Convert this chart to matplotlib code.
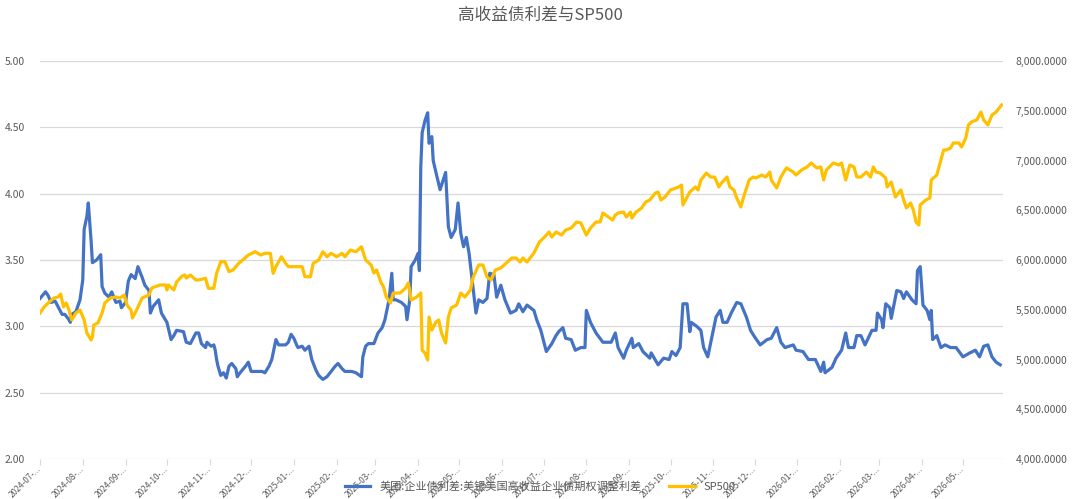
import matplotlib
matplotlib.use('Agg')
import matplotlib.pyplot as plt
import numpy as np
import pandas as pd

plt.rcParams['font.family'] = ['Noto Sans CJK SC', 'DejaVu Sans']

# days since 2024-07-01
spread_day = [0, 4, 6, 8, 11, 13, 16, 18, 21, 22, 23, 26, 29, 31, 32, 34, 35, 37, 38, 41, 44, 45, 47, 50, 52,
              55, 58, 59, 62, 64, 66, 69, 71, 74, 76, 79, 80, 82, 86, 88, 92, 95, 97, 99, 104, 106, 109, 113,
              115, 117, 120, 121, 124, 126, 127, 128, 129, 131, 133, 135, 137, 139, 142, 143, 145, 149, 151, 153,
              156, 161, 163, 166, 168, 171, 173, 178, 180, 182, 184, 186, 187, 190, 192, 195, 197, 200, 202, 205,
              208, 211, 214, 216, 219, 221, 226, 229, 233, 234, 236, 238,
              242, 245, 248, 250, 253, 255, 256, 258, 262, 265, 266, 268, 269, 272, 274, 275, 276, 277, 279, 281,
              282, 284, 285, 287, 290, 294, 296, 298, 301, 303, 305, 307, 309, 311, 313, 316, 318, 321, 324, 326,
              329, 331, 334, 337, 341, 345,
              347, 350, 353, 358, 360, 363, 367, 371, 374, 376, 379, 381, 385, 388, 392, 395, 396, 399, 403, 408,
              414, 417, 419, 423, 425, 429, 430, 434, 437, 442, 443, 448, 452, 456, 458, 461, 464, 466, 469,
              471, 472, 476, 479, 481, 484, 487, 490, 493, 495, 498, 501, 505, 508, 512, 515, 518, 522, 527, 530,
              534, 537, 540, 546, 548, 553, 557, 562, 566, 568, 569, 574, 577, 581,
              584, 586, 590, 592, 595, 598, 603, 606, 607, 610, 611, 613, 616, 617, 621, 624, 626, 628, 632, 635,
              636, 638, 640, 643, 645, 646, 647, 650, 653, 656, 660, 664, 669, 674, 678, 681, 684, 687, 690, 693, 696]
spread_val = [3.21, 3.26, 3.23, 3.18, 3.19, 3.15, 3.09, 3.09, 3.05, 3.03, 3.09, 3.11, 3.20, 3.35, 3.73, 3.83, 3.93,
              3.65, 3.48, 3.50, 3.54, 3.30, 3.25, 3.22, 3.26, 3.18, 3.19, 3.14, 3.18, 3.34, 3.39, 3.36, 3.45, 3.37,
              3.31, 3.27, 3.10, 3.15, 3.20, 3.10, 3.03, 2.90, 2.93, 2.97, 2.96, 2.88, 2.87, 2.95,
              2.95, 2.87, 2.84, 2.88, 2.85, 2.86, 2.82, 2.75, 2.70, 2.63, 2.65, 2.61, 2.70, 2.72, 2.68, 2.62, 2.65,
              2.70, 2.73, 2.66, 2.66, 2.66, 2.65, 2.70, 2.75, 2.90, 2.86, 2.86, 2.88, 2.94, 2.91, 2.86, 2.84, 2.85,
              2.82, 2.85, 2.75, 2.67, 2.63, 2.60, 2.62, 2.66, 2.70, 2.72, 2.68, 2.66, 2.66, 2.65, 2.62, 2.77, 2.85,
              2.87,
              2.87, 2.95, 2.99, 3.05, 3.20, 3.40, 3.20, 3.20, 3.18, 3.15, 3.05, 3.20, 3.45, 3.50, 3.55, 3.42, 4.20,
              4.46, 4.55, 4.61, 4.38, 4.43, 4.25, 4.16, 4.03, 4.16, 3.75, 3.67, 3.73, 3.93, 3.70, 3.60, 3.67, 3.55,
              3.37, 3.10, 3.20, 3.18, 3.21, 3.40, 3.39, 3.22, 3.31, 3.20, 3.10, 3.12,
              3.17, 3.11, 3.16, 3.12, 3.05, 2.97, 2.81, 2.87, 2.93, 2.96, 2.99, 2.91, 2.90, 2.82, 2.84, 2.84, 3.12,
              3.03, 2.95, 2.88, 2.88, 2.95, 2.84, 2.76, 2.82, 2.91, 2.84, 2.87, 2.81, 2.76, 2.80, 2.71, 2.76, 2.75,
              2.81, 2.78, 2.84, 3.17, 3.17,
              2.96, 3.03, 3.00, 2.97, 2.84, 2.77, 2.92, 3.07, 3.12, 3.03, 3.03, 3.10, 3.18, 3.17, 3.07, 2.97, 2.92,
              2.86, 2.90, 2.91, 2.99, 2.88, 2.84, 2.86, 2.82, 2.81, 2.75, 2.75, 2.66, 2.73, 2.65, 2.69, 2.76, 2.82,
              2.95, 2.84, 2.84, 2.93, 2.93, 2.86, 2.97, 2.97, 3.10, 3.05, 2.99, 3.17, 3.14, 3.06, 3.27, 3.26, 3.21,
              3.26, 3.20, 3.17, 3.42, 3.45, 3.16, 3.12, 3.05, 3.12, 2.90, 2.93, 2.84, 2.86, 2.84, 2.84, 2.77, 2.80,
              2.82, 2.77, 2.85, 2.86, 2.77, 2.73, 2.71]

sp_day = [0, 3, 6, 10, 13, 15, 17, 19, 21, 23, 26, 29, 32, 34, 37, 38, 39, 42, 45, 47, 51, 55, 58, 61, 63, 66,
          67, 70, 74, 79, 81, 87, 91, 92, 93, 97, 99, 103, 105, 106, 109, 113,
          115, 120, 122, 126, 128, 131, 134, 137, 140, 144, 147, 151, 156, 160, 163, 167, 169, 171, 175, 178,
          180, 185, 190, 192, 196, 198, 202, 205, 208, 211, 215, 219, 221, 225, 229, 233, 236,
          240, 242, 244, 247, 249, 251, 254, 256, 261, 265, 267, 269, 273, 276, 277, 279, 281, 282, 284, 287,
          289, 291, 294, 296, 298, 302, 305, 308, 312, 314, 318, 321, 324, 327, 330, 334, 338, 342, 345, 348,
          350, 353, 358, 362, 365, 369, 371, 374, 378, 381, 385, 389, 392, 396, 399, 403, 406, 408, 412, 415,
          417, 419, 423, 425, 428, 429, 432, 436, 439, 442, 446, 448, 450, 453, 457, 463, 465, 466, 469,
          471, 475, 477, 479, 483, 486, 489, 492, 494, 498, 500, 503, 505, 508, 510, 514, 517, 519, 523, 526,
          529, 530, 534, 537, 541, 546, 548, 552, 556, 559, 563, 566, 568, 570, 575, 579, 581, 584,
          587, 590, 592, 595, 599, 602, 604, 606, 609, 613, 614, 617, 620, 624, 626, 628, 631, 633, 635, 637,
          638, 642, 645, 646, 650, 653, 655, 657, 660, 662, 666, 668, 671, 673, 675, 679, 682, 684, 687, 690,
          693, 697]
sp_val = [5467, 5528, 5568, 5618, 5628, 5658, 5528, 5568, 5497, 5397, 5467, 5497, 5397, 5266, 5196, 5226, 5347,
          5367, 5467, 5568, 5618, 5628, 5618, 5648, 5548, 5497, 5417, 5497, 5618, 5648, 5719, 5749, 5749, 5699,
          5749, 5699, 5779, 5839, 5849, 5819, 5849, 5799,
          5799, 5816, 5716, 5716, 5866, 5983, 5983, 5883, 5900, 5967, 6000, 6050, 6083, 6050, 6067, 6067, 5866,
          5933, 6033, 5967, 5933, 5933, 5933, 5832, 5832, 5967, 6000, 6083, 6033, 6067, 6033, 6067, 6033, 6100,
          6083, 6133, 6000,
          5950, 5869, 5900, 5779, 5729, 5628, 5568, 5668, 5668, 5719, 5769, 5598, 5628, 5668, 5095, 5065, 4995,
          5427, 5296, 5377, 5397, 5266, 5166, 5427, 5518, 5548, 5668, 5628, 5699, 5829, 5950, 5950, 5829, 5799,
          5899, 5920, 5970, 6020, 6020, 5980,
          6020, 5980, 6070, 6181, 6221, 6281, 6231, 6281, 6251, 6301, 6321, 6382, 6372, 6251, 6321, 6382, 6382,
          6472, 6432, 6402, 6452, 6472, 6482, 6432, 6482, 6422, 6482, 6522, 6583, 6603, 6673, 6683, 6603, 6633,
          6704, 6734, 6754, 6553, 6633,
          6683, 6734, 6704, 6804, 6874, 6834, 6834, 6734, 6774, 6834, 6734, 6704, 6623, 6533, 6633, 6804, 6834,
          6824, 6854, 6834, 6884, 6804, 6724, 6834, 6925, 6884, 6854, 6905, 6935, 6975, 6925, 6935, 6804, 6905,
          6975, 6955, 6975, 6804,
          6955, 6935, 6834, 6834, 6884, 6834, 6935, 6884, 6874, 6824, 6734, 6784, 6633, 6704, 6603, 6523, 6573,
          6503, 6382, 6352, 6553, 6603, 6623, 6804, 6854, 7005, 7106, 7106, 7126, 7176, 7176, 7136, 7226, 7357,
          7387, 7407, 7487, 7407, 7357, 7457, 7487, 7558]

spread_label = '美国:企业债利差:美银美国高收益企业债期权调整利差'
sp_label = 'SP500'
title = '高收益债利差与SP500'

start = pd.Timestamp('2024-07-01')
spread_dates = start + pd.to_timedelta(spread_day, unit='D')
sp_dates = start + pd.to_timedelta(sp_day, unit='D')

grey = '#595959'
fig = plt.figure(figsize=(10.8, 4.99), dpi=100)
ax = fig.add_axes([40 / 1080, 1 - 459 / 499, 963 / 1080, 398 / 499])
ax2 = ax.twinx()

l1, = ax.plot(spread_dates, spread_val, color='#4472C4', lw=2.3, solid_joinstyle='round')
l2, = ax2.plot(sp_dates, sp_val, color='#FFC000', lw=2.3, solid_joinstyle='round')

ax.set_ylim(2, 5)
ax2.set_ylim(4000, 8000)
ax.set_yticks(np.arange(2, 5.01, 0.5))
ax2.set_yticks(np.arange(4000, 8001, 500))
ax.yaxis.set_major_formatter(lambda v, p: f'{v:.2f}')
ax2.yaxis.set_major_formatter(lambda v, p: f'{v:,.4f}')
ax.grid(axis='y', color='#D9D9D9', lw=0.9)
ax.set_axisbelow(True)
for a in (ax, ax2):
    for s in a.spines.values():
        s.set_visible(False)

ticks = pd.date_range('2024-07-01', '2026-05-01', freq='MS')
ax.set_xticks(ticks)
ax.set_xticklabels([t.strftime('%Y-%m') + '-...' for t in ticks], rotation=45, ha='right',
                   va='center', rotation_mode='anchor')
ax.set_xlim(start, start + pd.Timedelta(days=698))
ax.tick_params(axis='x', length=4, color='#D9D9D9', labelsize=6, labelcolor=grey, pad=2)
ax.tick_params(axis='y', length=0, labelsize=7.5, labelcolor=grey, pad=11)
ax2.tick_params(axis='y', length=0, labelsize=7.5, labelcolor=grey, pad=9)

fig.text(0.5, 1 - 15 / 499, title, ha='center', va='center', fontsize=12, color=grey)
fig.legend([l1, l2], [spread_label, sp_label], loc='center', bbox_to_anchor=(0.5, 1 - 487 / 499),
           ncol=2, frameon=False, fontsize=8, handlelength=2.3, columnspacing=2.5, labelcolor=grey)

fig.savefig('out.png', dpi=100)
